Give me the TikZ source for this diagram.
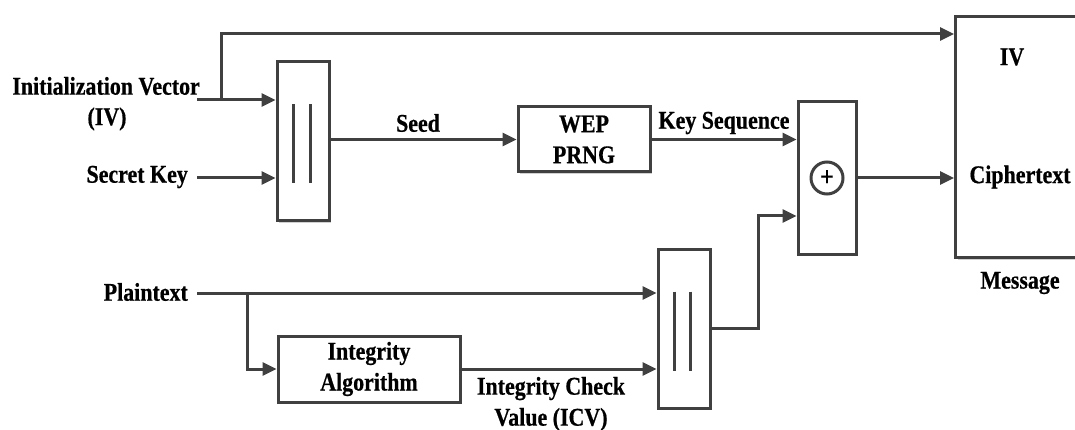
\documentclass[tikz,border=0pt]{standalone}
\usepackage{fontspec}
\setmainfont{Liberation Serif}[FakeStretch=0.86,BoldFeatures={FakeBold=0.6}]
\usetikzlibrary{arrows.meta,shadows,calc}
\definecolor{ln}{HTML}{404040}
\tikzset{
  box/.style={draw=ln,line width=3pt,fill=white,rectangle,inner sep=0pt,
    drop shadow={shadow xshift=2pt,shadow yshift=-2pt,fill=black!18,opacity=1}},
  arr/.style={draw=ln,line width=3pt,-{Triangle[length=14pt,width=13pt]}},
  wire/.style={draw=ln,line width=3pt},
  lbl/.style={font=\bfseries\fontsize{25.5}{31}\selectfont,inner sep=2pt,align=center},
}
\begin{document}
\begin{tikzpicture}[x=1pt,y=-1pt]
\useasboundingbox (0,0) rectangle (1075,430);
\clip (0,0) rectangle (1075,430);
% boxes
\node[box,minimum width=52pt,minimum height=159pt] (cat1) at (303,141.5) {};
\node[box,minimum width=132pt,minimum height=65pt,lbl] (wep) at (584,139.5) {WEP\\PRNG};
\node[box,minimum width=58pt,minimum height=152pt] (xor) at (827,178) {};
\node[draw=ln,line width=3pt,circle,minimum size=32pt,inner sep=0pt,font=\bfseries\fontsize{28}{28}\selectfont] (plus) at (xor.center) {+};
\node[box,minimum width=160pt,minimum height=241pt,anchor=north west] (msg) at (954,15) {};
\node[box,minimum width=52pt,minimum height=159pt] (cat2) at (684,328.5) {};
\node[box,minimum width=182pt,minimum height=66pt,lbl] (integ) at (369,369) {Integrity\\Algorithm};
% inner bars
\draw[wire] ($(cat1.center)+(-10,-37)$) -- ($(cat1.center)+(-10,42)$);
\draw[wire] ($(cat1.center)+(7,-37)$) -- ($(cat1.center)+(7,42)$);
\draw[wire] ($(cat2.center)+(-10,-37)$) -- ($(cat2.center)+(-10,42)$);
\draw[wire] ($(cat2.center)+(6,-37)$) -- ($(cat2.center)+(6,42)$);
% labels
\node[lbl,anchor=east] (ivl) at (202,86) {Initialization Vector};
\node[lbl] (ivl2) at (107,119) {(IV)};
\node[lbl,anchor=east] (sk) at (190,177) {Secret Key};
\node[lbl,anchor=east] (pt) at (190,292) {Plaintext};
\node[lbl] (seed) at (418,123) {Seed};
\node[lbl] (ks) at (724,123) {Key Sequence};
\node[lbl] (icv) at (551,404) {Integrity Check\\Value (ICV)};
\node[lbl] (iv) at (1012,57) {IV};
\node[lbl] (ct) at (1020,177) {Ciphertext};
\node[lbl] (ms) at (1020,283) {Message};
% connectors
\coordinate (ivs) at (197,100);
\coordinate (br1) at (221,100);
\coordinate (br2) at (247,293);
\coordinate (skp) at (197,178);
\coordinate (ptp) at (197,293);
\coordinate (ivt) at ($(msg.north west)+(0,19)$);
\coordinate (xin) at ($(xor.west)+(0,38)$);
\draw[arr] (ivs) -- (ivs -| cat1.west);
\draw[arr] (br1) |- (ivt);
\draw[arr] (skp) -- (skp -| cat1.west);
\draw[arr] (cat1.east |- wep.west) -- (wep.west);
\draw[arr] (wep.east) -- (wep.east -| xor.west);
\draw[arr] (xor.east) -- (xor.east -| msg.west);
\draw[arr] (ptp) -- (ptp -| cat2.west);
\draw[arr] (br2) |- (integ.west);
\draw[arr] (integ.east) -- (integ.east -| cat2.west);
\draw[arr] (cat2.east) -- ++(47,0) |- (xin);
\end{tikzpicture}
\end{document}
